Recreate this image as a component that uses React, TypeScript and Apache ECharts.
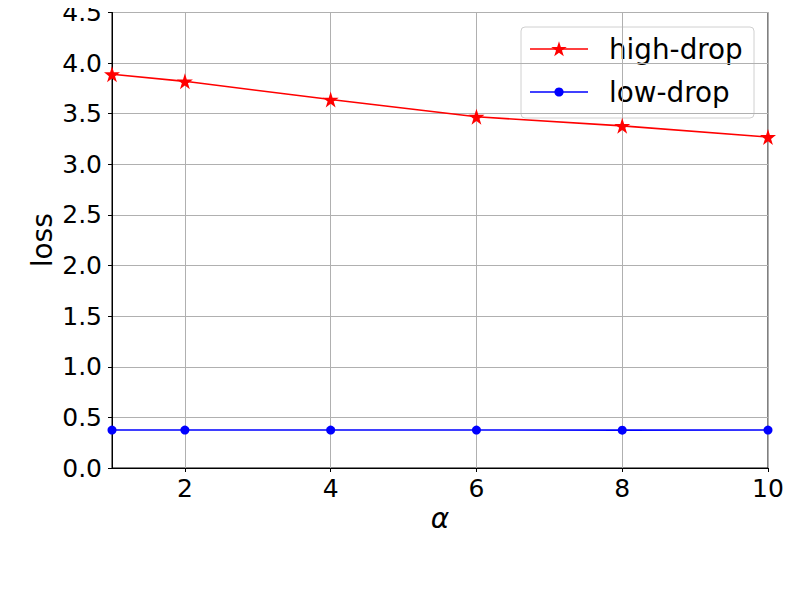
import React, { useEffect, useRef } from "react";
import * as echarts from "echarts";

const alphas = [1, 2, 4, 6, 8, 10];
const highDrop = [3.89, 3.82, 3.64, 3.47, 3.38, 3.27];
const lowDrop = [0.375, 0.375, 0.375, 0.375, 0.374, 0.375];
const xTicks = [2, 4, 6, 8, 10];
const seriesNames = ["high-drop", "low-drop"];
const seriesColors = ["#ff0000", "#0000ff"];

const FONT = "DejaVu Sans";
const STAR_PATH =
  "path://M50,0 L61.2,34.5 L97.6,34.5 L68.2,55.9 L79.4,90.5 L50,69.1 L20.6,90.5 L31.8,55.9 L2.4,34.5 L38.8,34.5 Z";

function starPoints(cx: number, cy: number, r: number): number[][] {
  const pts: number[][] = [];
  const inner = r * 0.382;
  for (let i = 0; i < 10; i++) {
    const ang = -Math.PI / 2 + (i * Math.PI) / 5;
    const rr = i % 2 === 0 ? r : inner;
    pts.push([cx + rr * Math.cos(ang), cy + rr * Math.sin(ang)]);
  }
  return pts;
}

export default function App() {
  const ref = useRef<HTMLDivElement>(null);
  useEffect(() => {
    if (!ref.current) return;
    const chart = echarts.init(ref.current, null, { renderer: "svg" });

    const legendLeft = 521;
    const legendTop = 27;
    const rowY = [49, 92];
    const legendGraphic = {
      type: "group",
      z: 100,
      children: [
        {
          type: "rect",
          shape: { x: legendLeft, y: legendTop, width: 233, height: 91, r: 4 },
          style: { fill: "rgba(255,255,255,0.8)", stroke: "#d0d0d0", lineWidth: 1 },
        },
        ...seriesNames.flatMap((name, i) => {
          const y = rowY[i];
          const items: any[] = [
            {
              type: "line",
              shape: { x1: 530, y1: y, x2: 588, y2: y },
              style: { stroke: seriesColors[i], lineWidth: 1.6 },
            },
            i === 0
              ? {
                  type: "polygon",
                  shape: { points: starPoints(559, y + 0.5, 8.2) },
                  style: { fill: seriesColors[i] },
                }
              : {
                  type: "circle",
                  shape: { cx: 559, cy: y, r: 4.6 },
                  style: { fill: seriesColors[i] },
                },
            {
              type: "text",
              x: 609,
              y: y,
              style: {
                text: name,
                fontFamily: FONT,
                fontSize: 27.8,
                fill: "#000000",
                verticalAlign: "middle",
                align: "left",
              },
            },
          ];
          return items;
        }),
      ],
    };

    chart.setOption({
      animation: false,
      backgroundColor: "#ffffff",
      grid: {
        left: 112,
        right: 32,
        top: 12,
        bottom: 132,
        show: true,
        borderColor: "#000000",
        borderWidth: 1,
        containLabel: false,
      },
      graphic: [legendGraphic],
      xAxis: {
        type: "value",
        min: 1,
        max: 10,
        name: "α",
        nameLocation: "middle",
        nameGap: 36,
        nameMoveOverlap: false,
        nameTextStyle: {
          fontFamily: FONT,
          fontSize: 28,
          fontStyle: "italic",
          color: "#000000",
        },
        axisLine: { show: true, lineStyle: { color: "#000000", width: 1 } },
        axisTick: {
          show: true,
          length: 4,
          lineStyle: { color: "#000000" },
          customValues: xTicks,
        },
        axisLabel: {
          fontFamily: FONT,
          fontSize: 25,
          color: "#000000",
          margin: 8,
          customValues: xTicks,
        },
        splitLine: { show: true, lineStyle: { color: "#b0b0b0", width: 1 } },
      },
      yAxis: {
        type: "value",
        min: 0,
        max: 4.5,
        interval: 0.5,
        name: "loss",
        nameLocation: "middle",
        nameGap: 56,
        nameMoveOverlap: false,
        nameTextStyle: {
          fontFamily: FONT,
          fontSize: 28,
          color: "#000000",
        },
        axisLine: { show: true, lineStyle: { color: "#000000", width: 1 } },
        axisTick: { show: true, length: 4, lineStyle: { color: "#000000" } },
        axisLabel: {
          fontFamily: FONT,
          fontSize: 25,
          lineHeight: 22,
          color: "#000000",
          margin: 10,
          formatter: (v: number) => v.toFixed(1),
        },
        splitLine: { show: true, lineStyle: { color: "#b0b0b0", width: 1 } },
      },
      series: [
        {
          name: seriesNames[0],
          type: "line",
          data: alphas.map((a, i) => [a, highDrop[i]]),
          symbol: STAR_PATH,
          symbolSize: 16,
          color: seriesColors[0],
          lineStyle: { color: seriesColors[0], width: 1.6 },
          itemStyle: { color: seriesColors[0] },
          clip: false,
          z: 3,
        },
        {
          name: seriesNames[1],
          type: "line",
          data: alphas.map((a, i) => [a, lowDrop[i]]),
          symbol: "circle",
          symbolSize: 9,
          color: seriesColors[1],
          lineStyle: { color: seriesColors[1], width: 1.6 },
          itemStyle: { color: seriesColors[1] },
          clip: false,
          z: 3,
        },
      ],
    });
    return () => chart.dispose();
  }, []);
  return <div ref={ref} style={{ width: 800, height: 600, margin: -8 }} />;
}
